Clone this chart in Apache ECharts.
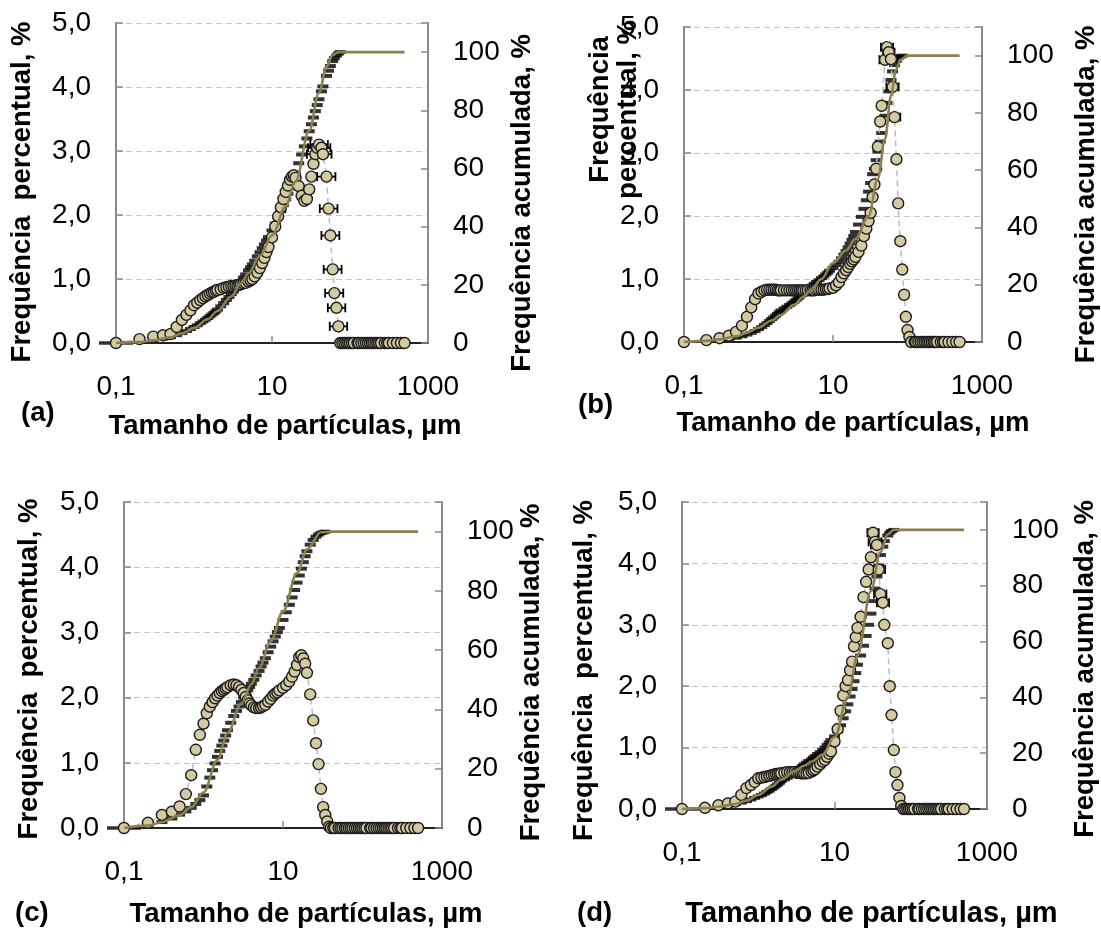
<!DOCTYPE html>
<html>
<head>
<meta charset="utf-8">
<script src="https://cdn.jsdelivr.net/npm/echarts/dist/echarts.min.js"></script>
<style>
  html, body { margin: 0; padding: 0; background: #ffffff; }
  #chart { width: 1101px; height: 929px; }
</style>
</head>
<body>
<div id="chart"></div>
<script>
// Particle size classes, µm (shared by all four samples)
const sizes = [
  0.1, 0.2, 0.3, 0.4, 0.5, 0.6, 0.7, 0.8, 0.9, 1.0,
  1.1, 1.2, 1.3, 1.4, 1.5, 1.6, 1.7, 1.8, 1.9, 2.0,
  2.2, 2.4, 2.6, 2.8, 3.0, 3.2, 3.4, 3.6, 3.8, 4.0,
  4.3, 4.6, 5.0, 5.3, 5.6, 6.0, 6.5, 7.0, 7.5, 8.0,
  8.5, 9.0, 10, 11, 12, 13, 14, 15, 16, 17,
  18, 19, 20, 22, 24, 26, 28, 30, 32, 34,
  36, 38, 40, 43, 45, 50, 53, 56, 60, 63,
  67, 71, 75, 80, 85, 90, 95, 100, 106, 112,
  125, 130, 140, 150, 160, 170, 180, 190, 200, 212,
  224, 236, 250, 280, 300, 315, 355, 400, 450, 500
];

// Frequency per class, %  (a)
const freqA = [
  0, 0.06, 0.1, 0.12, 0.14, 0.25, 0.36, 0.44, 0.51, 0.59,
  0.63, 0.67, 0.7, 0.73, 0.75, 0.77, 0.79, 0.8, 0.82, 0.83,
  0.84, 0.86, 0.87, 0.88, 0.89, 0.89, 0.9, 0.9, 0.91, 0.92,
  0.93, 0.94, 0.96, 0.98, 1.0, 1.04, 1.1, 1.17, 1.25, 1.33,
  1.42, 1.5, 1.65, 1.82, 1.98, 2.12, 2.25, 2.36, 2.46, 2.55,
  2.6, 2.62, 2.58, 2.45, 2.3, 2.22, 2.25, 2.4, 2.6, 2.8,
  2.95, 3.05, 3.1, 3.05, 2.95, 2.6, 2.1, 1.68, 1.15, 0.78,
  0.55, 0.26, 0, 0, 0, 0, 0, 0, 0, 0,
  0, 0, 0, 0, 0, 0, 0, 0, 0, 0,
  0, 0, 0, 0, 0, 0, 0, 0, 0, 0
];
// (b)
const freqB = [
  0, 0.03, 0.06, 0.1, 0.16, 0.26, 0.4, 0.55, 0.68, 0.77,
  0.8, 0.82, 0.83, 0.83, 0.83, 0.83, 0.83, 0.82, 0.82, 0.82,
  0.82, 0.82, 0.82, 0.82, 0.82, 0.82, 0.82, 0.82, 0.82, 0.82,
  0.82, 0.82, 0.82, 0.82, 0.82, 0.83, 0.83, 0.83, 0.83, 0.84,
  0.84, 0.85, 0.86, 0.9, 0.95, 1.03, 1.09, 1.14, 1.19, 1.24,
  1.28, 1.31, 1.35, 1.43, 1.53, 1.68, 1.8, 1.92, 2.05, 2.3,
  2.5, 2.75, 3.1, 3.5, 3.75, 4.48, 4.68, 4.6, 4.49, 4.05,
  3.57, 2.9, 2.2, 1.6, 1.15, 0.75, 0.4, 0.19, 0.08, 0,
  0, 0, 0, 0, 0, 0, 0, 0, 0, 0,
  0, 0, 0, 0, 0, 0, 0, 0, 0, 0
];
// (c)
const freqC = [
  0, 0.08, 0.2, 0.25, 0.33, 0.52, 0.81, 1.2, 1.43, 1.6,
  1.76, 1.86, 1.93, 1.99, 2.03, 2.07, 2.1, 2.12, 2.14, 2.16,
  2.19, 2.2, 2.19, 2.16, 2.12, 2.07, 2.01, 1.96, 1.91, 1.88,
  1.85, 1.84, 1.84, 1.85, 1.87, 1.89, 1.94, 1.98, 2.03, 2.06,
  2.08, 2.11, 2.15, 2.19, 2.25, 2.32, 2.4, 2.5, 2.62, 2.65,
  2.6, 2.52, 2.38, 2.05, 1.65, 1.3, 0.98, 0.6, 0.32, 0.2,
  0.1, 0.02, 0, 0, 0, 0, 0, 0, 0, 0,
  0, 0, 0, 0, 0, 0, 0, 0, 0, 0,
  0, 0, 0, 0, 0, 0, 0, 0, 0, 0,
  0, 0, 0, 0, 0, 0, 0, 0, 0, 0
];
// (d)
const freqD = [
  0, 0.02, 0.06, 0.09, 0.12, 0.23, 0.34, 0.39, 0.44, 0.5,
  0.51, 0.52, 0.53, 0.54, 0.55, 0.56, 0.57, 0.57, 0.58, 0.58,
  0.59, 0.6, 0.6, 0.6, 0.6, 0.59, 0.59, 0.58, 0.58, 0.58,
  0.58, 0.59, 0.61, 0.63, 0.65, 0.69, 0.73, 0.77, 0.8, 0.85,
  0.9, 0.94, 1.1, 1.3, 1.6, 1.85, 2.0, 2.1, 2.26, 2.4,
  2.65, 2.8, 2.95, 3.13, 3.45, 3.7, 3.9, 4.1, 4.5, 4.35,
  4.3, 3.9, 3.5, 3.36, 3.0, 2.7, 2.0, 1.53, 0.96, 0.6,
  0.39, 0.18, 0.05, 0, 0, 0, 0, 0, 0, 0,
  0, 0, 0, 0, 0, 0, 0, 0, 0, 0,
  0, 0, 0, 0, 0, 0, 0, 0, 0, 0
];

// Size spread of replicate readings around the main peak: [size, lower, upper], µm
const xErrA = [[36, 28, 46], [38, 29, 49], [40, 31, 52], [43, 33, 56], [45, 35, 58], [50, 38, 65],
  [53, 41, 69], [56, 43, 73], [60, 46, 78], [63, 48, 82], [67, 52, 87], [71, 55, 92]];
const xErrB = [[50, 42, 60], [53, 44, 64], [56, 47, 67], [60, 50, 72], [63, 52, 76], [67, 56, 80]];
const xErrC = [];
const xErrD = [[32, 27, 38], [34, 28, 41], [36, 30, 43], [38, 32, 46], [40, 33, 48], [43, 36, 52]];

// Measured cumulative passing, % (listed until the curve closes at 100)
const cumA = [
  0, 0.5, 1, 1.5, 2, 2.7, 3.4, 4.1, 4.8, 5.5,
  6.1, 6.8, 7.4, 8, 8.6, 9.2, 9.8, 10.3, 10.9, 11.5,
  12.6, 13.7, 14.8, 15.8, 16.8, 17.7, 18.6, 19.5, 20.4, 21.3,
  22.5, 23.6, 25, 26, 27, 28.3, 29.8, 31.2, 32.6, 33.9,
  35.2, 36.4, 38.7, 41, 43.2, 45.3, 47.4, 49.4, 51.3, 53.2,
  55, 56.8, 58.5, 61.8, 64.8, 67.6, 70.3, 72.8, 75.2, 77.5,
  79.7, 81.8, 83.8, 86.5, 88.2, 91.8, 93.6, 95.2, 96.9, 97.9,
  98.8, 99.5, 100
];
const cumB = [
  0, 0.3, 0.6, 1, 1.5, 2, 2.6, 3.2, 3.8, 4.5,
  5.2, 5.9, 6.6, 7.3, 8, 8.6, 9.2, 9.8, 10.4, 11,
  11.7, 12.3, 12.9, 13.5, 14.1, 14.7, 15.3, 15.9, 16.5, 17.1,
  17.8, 18.4, 19.1, 19.7, 20.3, 21, 21.6, 22.3, 22.9, 23.6,
  24.2, 24.9, 25.8, 26.9, 28, 29.2, 30.5, 31.8, 33.1, 34.4,
  35.7, 37, 38.4, 41, 43.7, 46.5, 49.5, 52.5, 55.5, 58.6,
  60.5, 63.5, 66.5, 70, 73, 79, 83.5, 87.5, 91.5, 94.5,
  96.7, 98.2, 99.2, 99.7, 100
];
const cumC = [
  0, 0.8, 2, 3.2, 4.5, 5.6, 6.8, 8.1, 9.4, 11,
  14, 17, 19.5, 21.8, 24, 26, 27.8, 29.5, 31.2, 33,
  35.5, 37.8, 39.5, 41, 42.5, 44, 45.3, 46.5, 47.6, 48.7,
  50, 51.5, 53, 54.5, 55.8, 57.3, 59.3, 61.2, 63, 64.6,
  66.1, 67.5, 70.2, 72.8, 75.3, 77.8, 80.3, 82.8, 85.2, 87.5,
  89.7, 91.7, 93.4, 95.6, 97.2, 98.3, 99, 99.5, 99.8, 100
];
const cumD = [
  0, 0.3, 0.8, 1.3, 1.8, 2.3, 2.8, 3.4, 4, 4.5,
  5, 5.5, 6.1, 6.6, 7.2, 7.7, 8.3, 8.8, 9.4, 10,
  10.6, 11.2, 11.8, 12.4, 13, 13.6, 14.2, 14.8, 15.4, 16,
  16.6, 17.2, 17.8, 18.4, 19, 19.7, 20.4, 21.2, 22, 22.9,
  23.8, 24.7, 26, 27.8, 30, 32.5, 35, 37.5, 40.3, 43,
  45.8, 48.7, 51.7, 55, 58.5, 62, 66, 70, 74.5, 79,
  83.3, 87.2, 91, 94, 96, 98, 99, 99.6, 100
];

// Fitted cumulative model, % at selected sizes
const fitSizes = [0.1, 0.2, 0.3, 0.5, 0.7, 1, 1.5, 2, 3, 4, 5, 7, 10, 15, 20, 30, 40, 50, 60, 70, 80, 100, 200, 500];
const fitA = [0, 0.3, 0.9, 2, 3.3, 5.2, 8.2, 11, 16, 20.5, 24, 30, 37, 47, 55.5, 73, 86, 95, 99, 99.9, 100, 100, 100, 100];
const fitB = [0, 0.4, 0.9, 2, 3.2, 5, 7.5, 9.5, 13, 15.8, 18, 22, 27.6, 32, 36, 44, 57, 71, 86, 95, 98.5, 100, 100, 100];
const fitC = [0, 0.8, 2, 4.4, 7, 12, 23, 32, 42, 48.5, 54, 63, 73, 86, 94, 99.8, 100, 100, 100, 100, 100, 100, 100, 100];
const fitD = [0, 0.3, 0.8, 1.8, 3, 5, 8, 10.5, 13.5, 15.5, 17, 19.5, 25.8, 40, 55, 78, 92, 98.5, 100, 100, 100, 100, 100, 100];

// Axis texts
const xTickLabels = { 0.1: '0,1', 10: '10', 1000: '1000' };
const leftName = 'Frequência  percentual, %';
const leftNameWrapped = 'Frequência\npercentual, %';
const rightName = 'Frequência acumulada, %';
const xName = 'Tamanho de partículas, µm';
const letters = ['(a)', '(b)', '(c)', '(d)'];

const FONT = '"Liberation Sans", Arial, sans-serif';
const AXIS_GRAY = '#8a8a8a';
const DOT_FILL = '#d4caa2';
const DOT_EDGE = '#1c1c1c';
const FIT_COLOR = '#8b8052';

// Plot boxes and text placement for each sample; wideOrigin widens the first cumulative dash
const panels = [
  { box: { left: 116, top: 23, width: 312, height: 320 }, freq: freqA, cum: cumA, fit: fitA, err: xErrA,
    lName: leftName, lGap: 80, lPad: [0, 18, 0, 0], rGap: 80, rPad: [0, 40, 0, 0],
    xGap: 69, xPad: [0, 0, 0, 26], xSize: 27.5, letter: { x: 21, y: 399 }, wideOrigin: true },
  { box: { left: 684, top: 27, width: 300, height: 315 }, freq: freqB, cum: cumB, fit: fitB, err: xErrB,
    lName: leftNameWrapped, lGap: 42, lPad: [0, 0, 0, 150], rGap: 90, rPad: [0, 20, 0, 0],
    xGap: 67, xPad: [0, 0, 0, 40], xSize: 27.5, letter: { x: 578, y: 391 }, wideOrigin: false },
  { box: { left: 124, top: 502, width: 318, height: 326 }, freq: freqC, cum: cumC, fit: fitC, err: xErrC,
    lName: leftName, lGap: 81, lPad: [0, 8, 0, 0], rGap: 74, rPad: [0, 15, 0, 0],
    xGap: 72, xPad: [0, 0, 0, 46], xSize: 27.5, letter: { x: 15, y: 899 }, wideOrigin: true },
  { box: { left: 682, top: 502, width: 305, height: 307 }, freq: freqD, cum: cumD, fit: fitD, err: xErrD,
    lName: leftName, lGap: 84, lPad: [0, 30, 0, 0], rGap: 84, rPad: [0, 27, 0, 0],
    xGap: 90, xPad: [0, 0, 0, 74], xSize: 29, letter: { x: 577, y: 899 }, wideOrigin: true }
];

const grid = [], xAxis = [], yAxis = [], series = [], graphic = [];
const tickText = { fontFamily: FONT, fontSize: 28, color: '#000' };
const nameText = { fontFamily: FONT, fontSize: 27.5, fontWeight: 'bold', color: '#000' };

// Horizontal error bar with end caps
function renderErrorBar(params, api) {
  const y = api.value(1);
  const a = api.coord([api.value(2), y]);
  const b = api.coord([api.value(3), y]);
  const h = 4.5;
  const st = { stroke: '#000', lineWidth: 1.8 };
  return {
    type: 'group',
    children: [
      { type: 'line', shape: { x1: a[0], y1: a[1], x2: b[0], y2: b[1] }, style: st },
      { type: 'line', shape: { x1: a[0], y1: a[1] - h, x2: a[0], y2: a[1] + h }, style: st },
      { type: 'line', shape: { x1: b[0], y1: b[1] - h, x2: b[0], y2: b[1] + h }, style: st }
    ]
  };
}

panels.forEach((p, k) => {
  grid.push(Object.assign({ containLabel: false }, p.box));

  // bottom log axis
  xAxis.push({
    gridIndex: k, type: 'log', logBase: 10, min: 0.1, max: 1000, interval: 2,
    name: xName, nameLocation: 'middle', nameGap: p.xGap,
    nameTextStyle: Object.assign({}, nameText, { padding: p.xPad, fontSize: p.xSize }),
    axisLine: { lineStyle: { color: AXIS_GRAY, width: 2 } },
    axisTick: { inside: true, length: 7, lineStyle: { color: AXIS_GRAY, width: 1.5 } },
    minorTick: { show: false },
    splitLine: { show: false },
    axisLabel: Object.assign({
      margin: 30,
      formatter: v => {
        for (const key in xTickLabels) if (Math.abs(v - Number(key)) < 1e-6 * Number(key)) return xTickLabels[key];
        return '';
      }
    }, tickText)
  });
  // top frame line
  xAxis.push({
    gridIndex: k, type: 'value', position: 'top', min: 0, max: 1,
    axisLine: { lineStyle: { color: '#000', width: 1.5 } },
    axisTick: { show: false }, axisLabel: { show: false }, splitLine: { show: false }
  });

  // left: frequency
  yAxis.push({
    gridIndex: k, type: 'value', position: 'left', min: 0, max: 5, interval: 1,
    name: p.lName, nameLocation: 'middle', nameGap: p.lGap, nameMoveOverlap: false,
    nameTextStyle: Object.assign({ padding: p.lPad, lineHeight: 28 }, nameText),
    axisLine: { show: true, lineStyle: { color: AXIS_GRAY, width: 2 } },
    axisTick: { inside: true, length: 7, lineStyle: { color: AXIS_GRAY, width: 1.5 } },
    splitLine: { show: true, lineStyle: { color: '#c4c4c4', type: [6, 4], width: 1.2 } },
    axisLabel: Object.assign({ margin: 25, formatter: v => v.toFixed(1).replace('.', ',') }, tickText)
  });
  // right: cumulative
  yAxis.push({
    gridIndex: k, type: 'value', position: 'right', min: 0, max: 110, interval: 20,
    name: rightName, nameLocation: 'middle', nameGap: p.rGap,
    nameTextStyle: Object.assign({ padding: p.rPad }, nameText),
    axisLine: { show: true, lineStyle: { color: AXIS_GRAY, width: 2 } },
    axisTick: { inside: true, length: 7, lineStyle: { color: AXIS_GRAY, width: 1.5 } },
    splitLine: { show: false },
    axisLabel: Object.assign({ margin: 25, formatter: v => (v > 100 ? '' : String(v)) }, tickText)
  });

  const xi = 2 * k, yl = 2 * k, yr = 2 * k + 1;

  series.push({
    type: 'scatter', xAxisIndex: xi, yAxisIndex: yr, z: 2, clip: false,
    symbol: 'rect', symbolSize: [11, 4],
    itemStyle: { color: '#000' },
    data: p.cum.map((c, i) => (i === 0 && p.wideOrigin)
      ? { value: [sizes[i], c], symbolSize: [34, 3.5] }
      : [sizes[i], c]),
    silent: true
  });
  series.push({
    type: 'custom', xAxisIndex: xi, yAxisIndex: yl, z: 2,
    renderItem: renderErrorBar,
    encode: { x: [0, 2, 3], y: 1 },
    data: p.err.map(([s, lo, hi]) => [s, p.freq[sizes.indexOf(s)], lo, hi]),
    silent: true
  });
  series.push({
    type: 'line', xAxisIndex: xi, yAxisIndex: yl, z: 3,
    symbol: 'circle', symbolSize: 11, showAllSymbol: true,
    itemStyle: { color: DOT_FILL, borderColor: DOT_EDGE, borderWidth: 1.4 },
    lineStyle: { color: '#bdbdbd', width: 1.5, type: [6, 4] },
    data: p.freq.map((v, i) => [sizes[i], v]),
    silent: true
  });
  series.push({
    type: 'line', xAxisIndex: xi, yAxisIndex: yr, z: 4,
    smooth: 0.35, smoothMonotone: 'x', showSymbol: false,
    lineStyle: { color: FIT_COLOR, width: 2.6 },
    data: p.fit.map((v, i) => [fitSizes[i], v]),
    silent: true
  });

  graphic.push({
    type: 'text', left: p.letter.x, top: p.letter.y,
    style: { text: letters[k], fontFamily: FONT, fontSize: 27.5, fontWeight: 'bold', fill: '#000' }
  });
});

const chart = echarts.init(document.getElementById('chart'), null, { renderer: 'canvas' });
chart.setOption({
  animation: false,
  backgroundColor: '#ffffff',
  textStyle: { fontFamily: FONT },
  grid, xAxis, yAxis, series, graphic
});
</script>
</body>
</html>
